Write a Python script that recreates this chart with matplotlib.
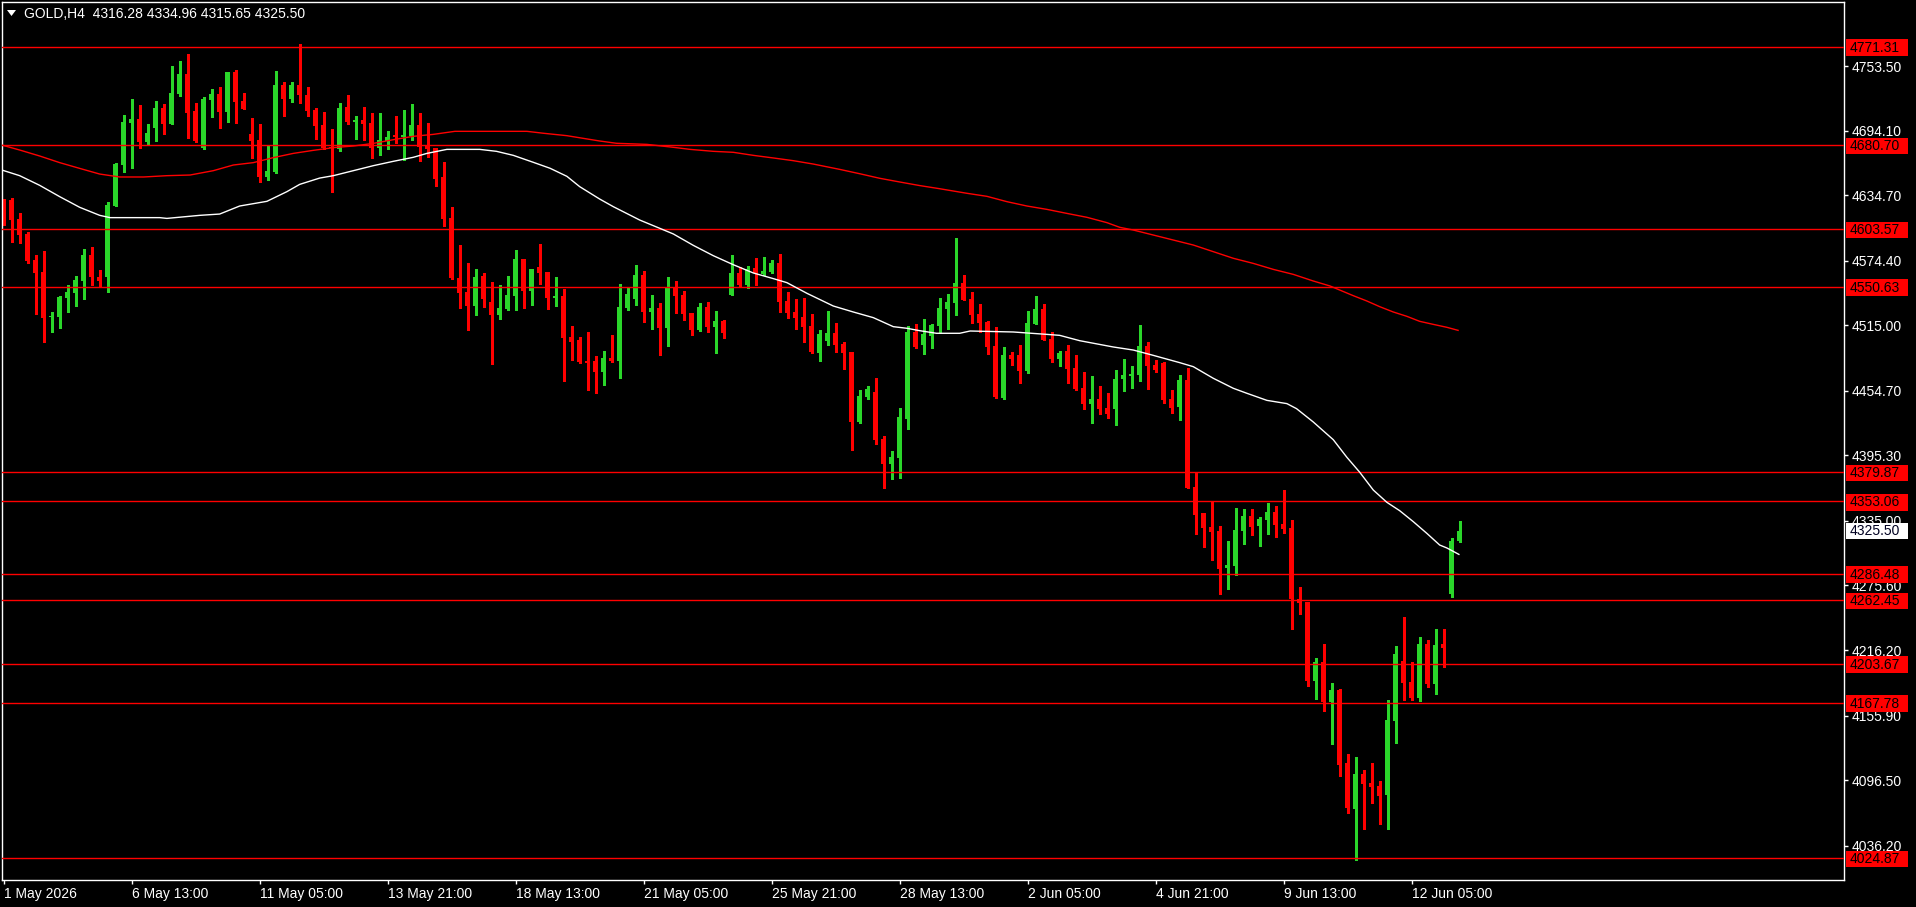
import matplotlib
matplotlib.use("Agg")
import matplotlib.pyplot as plt
from matplotlib.patches import Rectangle, Polygon
import numpy as np

# ---------------- data ----------------
title_text = "GOLD,H4  4316.28 4334.96 4315.65 4325.50"

opens = [
    4629.3, 4630.2, 4612.7, 4598.9, 4575.0, 4564.0, 4522.3, 4522.9, 4540.4, 4545.0,
    4556.0, 4579.6, 4559.4, 4559.7, 4625.0, 4662.7, 4701.4, 4704.7, 4683.9, 4696.8,
    4714.8, 4700.4, 4728.0, 4746.4, 4712.1, 4678.4, 4722.2, 4727.7, 4711.2, 4748.0,
    4721.3, 4690.9, 4685.4, 4651.7, 4656.0, 4736.0, 4723.1, 4736.0, 4726.8, 4713.0,
    4699.2, 4679.0, 4677.4, 4715.8, 4702.3, 4703.8, 4701.0, 4678.0, 4684.5, 4690.0,
    4688.2, 4689.1, 4699.2, 4680.8, 4678.0, 4651.4, 4613.6, 4558.4, 4545.6, 4532.7,
    4560.3, 4536.4, 4524.7, 4530.0, 4542.2, 4575.9, 4546.8, 4568.6, 4564.0, 4540.4,
    4541.9, 4504.2, 4501.4, 4482.1, 4482.1, 4472.3, 4484.9, 4482.1, 4530.9, 4539.2,
    4561.2, 4527.2, 4530.9, 4512.8, 4550.5, 4542.8, 4526.3, 4510.9, 4531.8, 4513.7,
    4518.9, 4543.1, 4563.1, 4552.0, 4567.7, 4562.2, 4564.0, 4572.3, 4537.6, 4527.5,
    4522.6, 4514.3, 4489.8, 4500.8, 4507.9, 4497.8, 4490.4, 4426.3, 4449.3, 4453.6,
    4410.7, 4387.6, 4393.2, 4429.0, 4508.8, 4496.8, 4505.1, 4514.3, 4530.0, 4535.5,
    4553.9, 4539.2, 4525.3, 4518.0, 4495.9, 4448.1, 4487.6, 4487.6, 4472.9, 4516.2,
    4530.0, 4502.4, 4484.0, 4491.3, 4475.7, 4457.3, 4442.6, 4447.2, 4438.9, 4438.0,
    4465.6, 4468.3, 4469.2, 4495.9, 4478.4, 4480.3, 4447.2, 4439.8, 4464.6, 4366.2,
    4342.3, 4329.4, 4325.7, 4292.0, 4293.5, 4325.7, 4339.5, 4330.3, 4335.8, 4343.2,
    4332.1, 4328.5, 4263.1, 4260.4, 4187.7, 4205.2, 4168.4, 4179.4, 4112.3, 4070.0,
    4102.2, 4093.9, 4091.1, 4083.1, 4150.9, 4206.1, 4186.8, 4172.1, 4221.8, 4185.0,
    4222.1, 4267.7, 4316.28,
]
highs = [
    4631.1, 4632.0, 4618.3, 4600.8, 4579.3, 4583.3, 4527.2, 4541.9, 4551.7, 4560.3,
    4585.1, 4587.0, 4565.8, 4628.4, 4664.5, 4708.4, 4723.1, 4717.6, 4700.1, 4721.3,
    4718.5, 4753.5, 4758.1, 4764.5, 4719.4, 4725.0, 4732.3, 4734.2, 4748.0, 4749.8,
    4728.6, 4705.6, 4700.1, 4680.2, 4748.9, 4738.8, 4738.8, 4773.7, 4734.2, 4714.8,
    4711.2, 4695.5, 4719.4, 4726.8, 4707.5, 4715.8, 4710.2, 4710.2, 4693.7, 4707.5,
    4713.0, 4718.5, 4710.2, 4701.0, 4678.0, 4665.2, 4623.8, 4588.8, 4572.3, 4566.7,
    4563.4, 4554.8, 4552.0, 4560.3, 4584.2, 4575.9, 4566.8, 4589.7, 4564.0, 4559.4,
    4548.4, 4514.3, 4504.2, 4509.1, 4487.0, 4491.6, 4506.0, 4553.3, 4550.2, 4570.4,
    4564.9, 4542.8, 4535.5, 4559.4, 4555.7, 4546.5, 4526.3, 4535.5, 4536.4, 4528.1,
    4519.8, 4579.6, 4568.6, 4569.5, 4576.9, 4577.8, 4575.0, 4580.5, 4545.6, 4539.2,
    4540.4, 4525.4, 4510.6, 4528.1, 4517.1, 4499.6, 4490.4, 4455.4, 4459.1, 4466.5,
    4413.4, 4399.6, 4439.2, 4514.6, 4516.2, 4520.8, 4516.2, 4540.1, 4543.8, 4595.3,
    4561.2, 4545.6, 4534.6, 4518.9, 4513.4, 4495.0, 4490.4, 4496.8, 4528.1, 4541.9,
    4534.6, 4508.8, 4491.3, 4496.8, 4487.6, 4472.0, 4468.3, 4459.1, 4452.7, 4473.8,
    4484.0, 4477.5, 4515.2, 4499.6, 4483.0, 4481.2, 4455.4, 4469.2, 4475.7, 4379.1,
    4342.3, 4352.7, 4330.3, 4316.5, 4346.9, 4345.9, 4345.9, 4338.6, 4351.5, 4348.7,
    4363.4, 4335.8, 4274.2, 4260.4, 4208.9, 4221.8, 4185.9, 4180.4, 4120.5, 4117.8,
    4105.8, 4112.3, 4095.7, 4170.2, 4219.9, 4246.6, 4205.2, 4228.2, 4225.4, 4235.5,
    4235.5, 4319.3, 4334.96,
]
lows = [
    4607.2, 4591.9, 4591.0, 4571.9, 4525.6, 4499.9, 4509.1, 4512.8, 4527.5, 4533.0,
    4539.4, 4552.0, 4551.1, 4545.9, 4625.0, 4656.3, 4660.0, 4678.4, 4681.4, 4684.8,
    4691.2, 4700.4, 4726.2, 4687.6, 4683.6, 4677.4, 4706.6, 4696.5, 4702.0, 4701.0,
    4713.9, 4668.8, 4647.1, 4648.6, 4655.0, 4707.5, 4720.4, 4719.4, 4707.5, 4686.3,
    4677.1, 4637.9, 4675.6, 4700.4, 4686.3, 4685.4, 4668.8, 4671.6, 4677.1, 4682.6,
    4667.0, 4685.4, 4666.1, 4669.8, 4643.1, 4606.3, 4557.2, 4530.9, 4510.6, 4524.4,
    4532.1, 4479.7, 4521.1, 4529.0, 4529.3, 4531.2, 4533.9, 4553.3, 4530.3, 4533.0,
    4464.0, 4483.3, 4480.6, 4455.7, 4453.0, 4460.3, 4481.5, 4466.8, 4529.3, 4533.9,
    4518.3, 4511.5, 4487.9, 4496.2, 4526.6, 4520.1, 4506.3, 4510.0, 4509.1, 4489.8,
    4503.6, 4543.1, 4550.5, 4549.6, 4552.0, 4561.2, 4563.1, 4527.5, 4522.0, 4511.9,
    4499.9, 4489.8, 4482.4, 4497.1, 4490.7, 4475.0, 4400.5, 4425.4, 4447.4, 4406.1,
    4365.6, 4373.9, 4374.8, 4419.8, 4494.1, 4488.6, 4494.1, 4508.8, 4511.5, 4524.4,
    4538.2, 4517.1, 4508.8, 4488.6, 4448.1, 4447.2, 4478.4, 4461.9, 4471.1, 4516.2,
    4501.4, 4481.2, 4477.5, 4461.9, 4455.4, 4438.0, 4425.1, 4433.3, 4429.7, 4423.2,
    4454.5, 4457.3, 4463.7, 4456.4, 4472.0, 4443.5, 4434.3, 4427.8, 4365.6, 4322.9,
    4311.0, 4299.0, 4267.7, 4272.4, 4285.2, 4313.7, 4322.0, 4311.9, 4322.9, 4320.2,
    4323.9, 4235.6, 4249.3, 4183.1, 4171.2, 4160.1, 4129.8, 4100.6, 4066.6, 4023.4,
    4051.9, 4075.8, 4056.4, 4051.9, 4130.7, 4170.2, 4170.2, 4169.3, 4182.2, 4175.8,
    4200.6, 4265.0, 4315.65,
]
closes = [
    4614.0, 4612.1, 4598.3, 4574.4, 4563.4, 4522.0, 4522.9, 4541.0, 4545.6, 4556.6,
    4579.6, 4559.7, 4556.0, 4625.6, 4663.3, 4702.0, 4704.7, 4683.9, 4691.8, 4714.8,
    4700.4, 4728.6, 4746.4, 4710.5, 4684.5, 4723.1, 4727.7, 4711.2, 4748.0, 4720.4,
    4713.9, 4684.8, 4651.7, 4656.9, 4736.0, 4723.1, 4736.0, 4726.8, 4712.1, 4698.3,
    4678.0, 4677.7, 4714.8, 4702.0, 4703.8, 4700.4, 4678.0, 4685.4, 4688.2, 4688.2,
    4690.0, 4699.2, 4679.0, 4677.1, 4649.5, 4612.7, 4558.1, 4544.6, 4532.7, 4559.4,
    4539.5, 4524.7, 4530.9, 4542.8, 4575.9, 4546.8, 4566.8, 4563.4, 4540.4, 4542.2,
    4503.6, 4499.9, 4481.2, 4480.3, 4472.3, 4484.9, 4482.1, 4531.8, 4543.8, 4561.2,
    4527.5, 4530.9, 4512.8, 4550.5, 4542.2, 4525.7, 4510.9, 4531.8, 4513.7, 4518.9,
    4508.2, 4563.1, 4552.0, 4566.8, 4563.1, 4564.9, 4572.3, 4536.7, 4526.6, 4522.0,
    4513.7, 4490.7, 4506.9, 4507.9, 4497.1, 4489.8, 4426.3, 4449.9, 4456.3, 4409.7,
    4387.6, 4394.1, 4430.9, 4509.1, 4495.0, 4507.0, 4515.2, 4530.9, 4536.4, 4553.9,
    4538.2, 4524.4, 4517.1, 4495.0, 4449.0, 4487.6, 4483.9, 4472.9, 4517.1, 4530.0,
    4501.4, 4484.0, 4489.5, 4474.8, 4456.4, 4442.6, 4447.2, 4438.0, 4433.3, 4465.6,
    4469.2, 4470.2, 4495.9, 4477.5, 4473.8, 4446.2, 4438.9, 4464.6, 4365.6, 4340.4,
    4328.5, 4324.8, 4290.8, 4294.4, 4326.6, 4339.5, 4329.4, 4336.7, 4343.2, 4331.2,
    4327.6, 4263.1, 4259.5, 4187.7, 4205.2, 4168.4, 4179.4, 4110.4, 4071.2, 4102.2,
    4093.3, 4090.5, 4082.2, 4151.8, 4212.6, 4185.9, 4172.1, 4221.8, 4185.0, 4220.8,
    4218.4, 4316.5, 4325.50,
]

# moving averages (bar position, price)
white_ma_x = [-0.1, 2.0, 4.5, 7.0, 9.5, 12.0, 13.3, 19.5, 20.4, 24.5, 27.0, 29.5, 32.9,
              35.4, 37.0, 39.5, 41.2, 43.7, 46.2, 48.7, 51.2, 52.9, 55.4, 59.5, 61.6,
              63.7, 66.2, 68.3, 70.4, 72.0, 74.5, 76.2, 79.5, 82.0, 83.7, 86.2, 88.7,
              91.2, 93.7, 96.2, 97.9, 100.4, 103.7, 106.2, 108.7, 111.2, 112.9, 114.5,
              116.6, 119.5, 120.8, 126.2, 130.4, 132.0, 134.5, 138.7, 141.2, 143.7,
              147.0, 148.7, 151.2, 153.7, 155.4, 157.9, 160.4, 161.6, 163.7, 166.2,
              167.9, 169.5, 171.2, 172.9, 174.5, 176.2, 177.9, 179.5, 180.4, 181.9]
white_ma_y = [4657.5, 4652.6, 4643.7, 4633.3, 4623.5, 4616.1, 4614.0, 4614.0, 4613.3,
              4616.1, 4617.3, 4624.7, 4629.0, 4637.9, 4644.6, 4650.4, 4652.6, 4657.2,
              4661.8, 4665.8, 4669.5, 4673.1, 4676.8, 4676.8, 4675.0, 4671.3, 4664.9,
              4659.4, 4652.0, 4642.5, 4631.1, 4624.1, 4611.8, 4604.2, 4599.0, 4588.5,
              4579.0, 4570.7, 4563.1, 4557.9, 4554.2, 4544.4, 4532.7, 4527.2, 4522.0,
              4513.7, 4512.2, 4510.0, 4507.6, 4507.6, 4509.7, 4508.8, 4506.6, 4505.7,
              4500.8, 4495.0, 4492.2, 4487.3, 4480.6, 4476.9, 4466.2, 4457.0, 4452.4,
              4445.9, 4442.9, 4438.3, 4426.0, 4409.7, 4393.5, 4379.8, 4363.4, 4352.1,
              4344.4, 4334.3, 4323.5, 4312.8, 4310.1, 4304.2]

red_ma_x = [-0.1, 2.0, 4.5, 7.0, 9.5, 12.0, 14.5, 17.5, 20.4, 23.3, 26.2, 28.7, 31.2,
            33.7, 36.2, 38.7, 41.2, 43.7, 46.2, 48.7, 51.2, 53.7, 56.4, 65.4, 67.5,
            70.4, 72.4, 74.5, 76.6, 80.4, 83.7, 85.8, 88.7, 91.2, 93.7, 96.2, 98.7,
            101.2, 104.5, 107.0, 109.5, 112.0, 114.5, 117.0, 120.4, 122.9, 125.4,
            127.9, 130.4, 132.9, 135.4, 137.9, 139.5, 141.2, 143.7, 146.2, 148.7,
            151.2, 153.7, 156.2, 158.7, 161.2, 163.7, 165.8, 167.0, 168.7, 170.4,
            172.0, 173.7, 175.4, 177.0, 178.7, 180.4, 181.8]
red_ma_y = [4680.5, 4676.2, 4670.7, 4664.6, 4659.3, 4654.1, 4651.4, 4651.4, 4652.6,
            4653.2, 4657.2, 4662.4, 4664.6, 4669.2, 4673.1, 4675.9, 4678.4, 4679.9,
            4682.3, 4685.7, 4688.8, 4690.6, 4693.4, 4693.4, 4691.6, 4689.4, 4687.0,
            4684.5, 4682.4, 4681.4, 4678.7, 4676.8, 4675.0, 4674.1, 4671.3, 4668.9,
            4666.4, 4663.3, 4658.4, 4654.4, 4650.2, 4646.8, 4643.5, 4640.6, 4636.4,
            4633.6, 4628.7, 4624.7, 4621.6, 4617.9, 4614.3, 4609.4, 4605.1, 4602.6,
            4598.0, 4593.4, 4588.8, 4582.7, 4576.6, 4571.9, 4566.4, 4561.8, 4555.7,
            4551.1, 4547.4, 4542.2, 4537.3, 4532.1, 4527.2, 4523.2, 4518.6, 4515.8,
            4513.1, 4510.3]

level_values = [4771.31, 4680.70, 4603.57, 4550.63, 4379.87, 4353.06,
                4286.48, 4262.45, 4203.67, 4167.78, 4024.87]
current_price = 4325.50

y_tick_values = [4753.50, 4694.10, 4634.70, 4574.40, 4515.00, 4454.70, 4395.30,
                 4335.00, 4275.60, 4216.20, 4155.90, 4096.50, 4036.20]
x_tick_bars = [0, 16, 32, 48, 64, 80, 96, 112, 128, 144, 160, 176]
x_tick_labels = ["1 May 2026", "6 May 13:00", "11 May 05:00", "13 May 21:00",
                 "18 May 13:00", "21 May 05:00", "25 May 21:00", "28 May 13:00",
                 "2 Jun 05:00", "4 Jun 21:00", "9 Jun 13:00", "12 Jun 05:00"]

# ---------------- styling ----------------
UP = "#2ad62a"
DOWN = "#ff0000"
LEVEL = "#ff0000"
plt.rcParams['font.family'] = ['Liberation Sans', 'DejaVu Sans']

W, H = 1916, 907
fig = plt.figure(figsize=(W / 100, H / 100), dpi=100, facecolor='black')
ax = fig.add_axes([2 / W, (H - 880) / H, 1842 / W, 878 / H], facecolor='black')
ax.set_xlim(-0.2125, 230.04)
ax.set_ylim(4004.64, 4812.38)

o = np.array(opens); h = np.array(highs); l = np.array(lows); c = np.array(closes)
idx = np.arange(len(o))
up = c >= o
cols = np.where(up, UP, DOWN)
px = 1 / 1.087  # one pixel in price units

ax.vlines(idx, l, h, colors=cols, linewidth=0.75, antialiased=False, zorder=2)
bottoms = np.minimum(o, c)
heights = np.maximum(np.abs(c - o), px)
ax.bar(idx, heights, bottom=bottoms, width=0.68, color=cols, linewidth=0,
       antialiased=False, zorder=2.1)

for v in level_values:
    ax.axhline(v, color=LEVEL, linewidth=1.0, zorder=3)

ax.plot(red_ma_x, red_ma_y, color="#ff0000", linewidth=1.0, zorder=4)
ax.plot(white_ma_x, white_ma_y, color="#ffffff", linewidth=1.0, zorder=4)

for s in ax.spines.values():
    s.set_color('white')
    s.set_linewidth(1.0)

ax.yaxis.tick_right()
ax.set_yticks(y_tick_values)
ax.set_yticklabels([f"{v:.2f}" for v in y_tick_values])
ax.tick_params(axis='y', colors='white', labelcolor='white', length=3, width=1,
               pad=2.2, labelsize=10)
ax.set_xticks(x_tick_bars)
ax.set_xticklabels(x_tick_labels, ha='left')
ax.tick_params(axis='x', colors='white', labelcolor='white', length=3, width=1,
               pad=2.0, labelsize=10)
for lab in ax.get_xticklabels():
    lab.set_horizontalalignment('left')

trans = ax.get_yaxis_transform()
bw = 62 / 1842
bx = (1846 - 2) / 1842
tx = (1850 - 2) / 1842
bh = 16.5 * px
for v in level_values:
    ax.add_patch(Rectangle((bx, v - bh / 2 - px), bw, bh, transform=trans,
                           facecolor=LEVEL, edgecolor='none', clip_on=False, zorder=5))
    ax.text(tx, v - px, f"{v:.2f}", transform=trans, color='black', fontsize=10,
            va='center', ha='left', clip_on=False, zorder=6)

ax.add_patch(Rectangle((bx, current_price - bh / 2), bw, bh, transform=trans,
                       facecolor='white', edgecolor='none', clip_on=False, zorder=5))
ax.text(tx, current_price, f"{current_price:.2f}", transform=trans, color='#000020',
        fontsize=10, va='center', ha='left', clip_on=False, zorder=6)

# title
fig.patches.append(Polygon([[7 / W, 1 - 10 / H], [16 / W, 1 - 10 / H], [11.5 / W, 1 - 16 / H]],
                           closed=True, transform=fig.transFigure, facecolor='white',
                           edgecolor='none'))
fig.text(24 / W, 1 - 14 / H, title_text, color='white', fontsize=10, va='center', ha='left')

fig.savefig("out.png", dpi=100, facecolor='black')
